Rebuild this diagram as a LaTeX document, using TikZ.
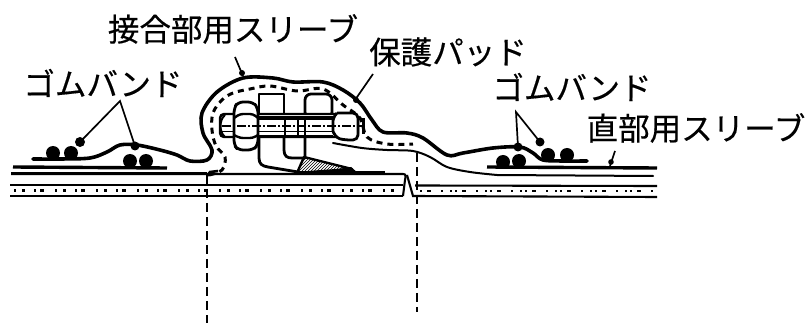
\documentclass[tikz,border=0pt]{standalone}
\usepackage{fontspec}
\newfontfamily\jpfont[FakeBold=0.4]{Noto Sans CJK JP}
\usetikzlibrary{patterns}
\tikzset{
  lbl/.style={font=\jpfont\fontsize{31.5}{31.5}\selectfont,inner sep=0pt,text=black},
  sleeve/.style={line width=3.6pt,line join=round,line cap=round},
  thinsleeve/.style={line width=2pt,line join=round,line cap=round},
  pad/.style={line width=3pt,dash pattern=on 6pt off 5pt},
  pipe/.style={line width=2.1pt},
  band/.style={line width=3.4pt},
  leader/.style={line width=1.7pt},
  ball/.style={fill=black,draw=none},
  centre/.style={line width=1.4pt,dash pattern=on 9pt off 5pt},
  part/.style={line width=2.8pt,line join=round,fill=white},
  sand/.style={line width=2.2pt},
}
\begin{document}
\begin{tikzpicture}[x=1pt,y=-1pt]
\useasboundingbox[fill=white] (0,0) rectangle (809,323);
% labels
\node[lbl,anchor=center] (sl)  at (233,29) {接合部用スリーブ};
\node[lbl,anchor=center] (pd)  at (448,52) {保護パッド};
\node[lbl,anchor=center] (gl)  at (103,83) {ゴムバンド};
\node[lbl,anchor=center] (gr)  at (572,87) {ゴムバンド};
\node[lbl,anchor=center] (st)  at (696,128) {直部用スリーブ};
% pipe
\draw[pipe] (11,174) -- (403,174) .. controls (406,174) and (406,176) .. (405,180) -- (403,196);
\draw[pipe] (10,185) -- (403,185);
\draw[pipe] (10,196) -- (403,196);
\draw[pipe] (407,175) -- (413,196) -- (657,197);
\draw[pipe] (415,185.5) -- (657,186);
\draw[sand,dash pattern=on 2pt off 6pt on 3pt off 9pt on 2pt off 4pt on 4pt off 11pt] (14,190.5) -- (400,190.5);
\draw[sand,dash pattern=on 2pt off 5pt on 4pt off 10pt on 2pt off 7pt on 2pt off 3pt] (420,191) -- (655,191);
% straight sleeves
\draw[band] (13,167) -- (167,168);
\draw[band] (487,167) -- (657,168);
\draw[pipe] (11,173) -- (207,173);
% thin lower sleeve edge
\draw[thinsleeve] plot[smooth,tension=.55] coordinates {(333,143) (362,148) (387,150) (413,151) (430,157) (447,167) (470,172) (497,175)} -- (653,176);
% bolted coupling: lower flanges
\draw[part,fill=none] (259,136) -- (259,158) .. controls (259,164) and (262,166) .. (268,167) -- (298,172);
\draw[part,fill=none] (284,136) -- (284,150) .. controls (284,156) and (287,158) .. (292,158) -- (305,158) -- (305,136);
% wedge
\draw[line width=2.4pt,line join=round,pattern=north east lines] (304,157) -- (352,169) -- (297,173) -- cycle;
\fill (325,171) -- (351,167) -- (358,173) -- (325,174) -- cycle;
\draw[line width=3.6pt] (298,173) -- (385,173);
% upper blocks
\draw[part] (259,94) rectangle (284,118);
\draw[part,rounded corners=6pt] (305,118) -- (305,94) -- (332,94) -- (332,118) -- cycle;
% bolt shaft
\draw[line width=2.4pt,fill=white,rounded corners=4pt] (220,114) rectangle (358,137);
\draw[line width=1.6pt] (222,131.5) -- (333,131.5);
\draw[line width=4pt] (258,118) -- (333,118);
\draw[line width=3.4pt] (258,136.5) -- (333,136.5);
\draw[line width=2.4pt] (285,118) -- (285,137) (298,118) -- (298,137) (305,118) -- (305,137);
\draw[line width=2pt] (225,115) .. controls (219,120) and (219,132) .. (225,137);
% left nut
\draw[part,rounded corners=5pt] (238,102) -- (253,102) -- (258,108) -- (258,145) -- (253,150) -- (238,150) -- (234,145) -- (234,108) -- cycle;
\draw[line width=2.4pt,rounded corners=3pt] (234,118) -- (240,114) -- (253,114) -- (258,118);
\draw[line width=2.4pt,rounded corners=3pt] (234,135) -- (240,138) -- (253,138) -- (258,135);
% right nut
\draw[part,rounded corners=5pt] (337,113) -- (358,113) -- (358,140) -- (345,140) .. controls (336,138) and (333,132) .. (333,126) .. controls (333,120) and (334,116) .. (337,113);
% centre line of the bolt
\draw[line width=1.2pt,dash pattern=on 9pt off 2pt on 2pt off 2pt] (222,126) -- (364,126);
\fill (362,118) rectangle (364.5,134);
% protective pad dashes
\draw[pad] plot[smooth,tension=.6] coordinates {(209,175) (222,170) (225,157) (216,146) (212,130) (213,113) (222,100) (233,93) (250,89) (270,86) (297,91) (323,89) (343,105) (360,118) (367,137) (387,144) (413,144)};
% outer sleeve
\draw[sleeve] plot[smooth,tension=.55] coordinates {(33,159) (60,159) (90,158) (107,152) (120,145) (137,145) (160,150) (177,155) (190,161) (207,160) (212,150) (203,133) (202,113) (217,92) (243,78) (273,78) (293,82) (323,82) (343,90) (360,103) (372,120) (383,132) (407,133) (423,138) (447,155) (463,153) (493,148) (520,147) (533,153) (543,160) (565,161) (587,161)};
% joint end mark
\draw[line width=2.6pt] (207,176) -- (210,172) -- (218,171);
% rubber bands
\fill[ball] (53,153) circle (7pt);
\fill[ball] (71,153) circle (7pt);
\fill[ball] (130,161) circle (7pt);
\fill[ball] (146,161) circle (7pt);
\fill[ball] (503,162) circle (7pt);
\fill[ball] (519,161) circle (7pt);
\fill[ball] (548,155) circle (7pt);
\fill[ball] (567,155) circle (7pt);
% leaders
\coordinate (ga) at (120,101);
\coordinate (gb) at (80,142);
\coordinate (gc) at (135,146);
\draw[leader] (gb) -- (ga) -- (gc);
\fill (gb) circle (5pt);
\fill (gc) circle (4.5pt);
\coordinate (ha) at (516,112);
\coordinate (hb) at (518,147);
\coordinate (hc) at (540,142);
\draw[leader] (hb) -- (ha) -- (hc);
\fill (hb) circle (4.5pt);
\fill (hc) circle (4.5pt);
\coordinate (sa) at (235,57);
\coordinate (sb) at (243,76);
\draw[leader] (sa) -- (sb);
\fill (242,73) circle (3pt);
\coordinate (pa) at (373,74);
\coordinate (pb) at (355,100);
\draw[leader] (pa) -- (pb);
\fill (356,100) circle (3pt);
\coordinate (ta) at (615,151);
\coordinate (tb) at (610,166);
\draw[leader] (ta) -- (tb);
\fill (611,162) circle (2.8pt);
% centre lines
\coordinate (c1a) at (207,175);
\coordinate (c1b) at (207,323);
\coordinate (c2a) at (417,153);
\coordinate (c2b) at (417,312);
\draw[centre] (c1a) -- (c1b);
\draw[centre] (c2a) -- (c2b);
\end{tikzpicture}
\end{document}
